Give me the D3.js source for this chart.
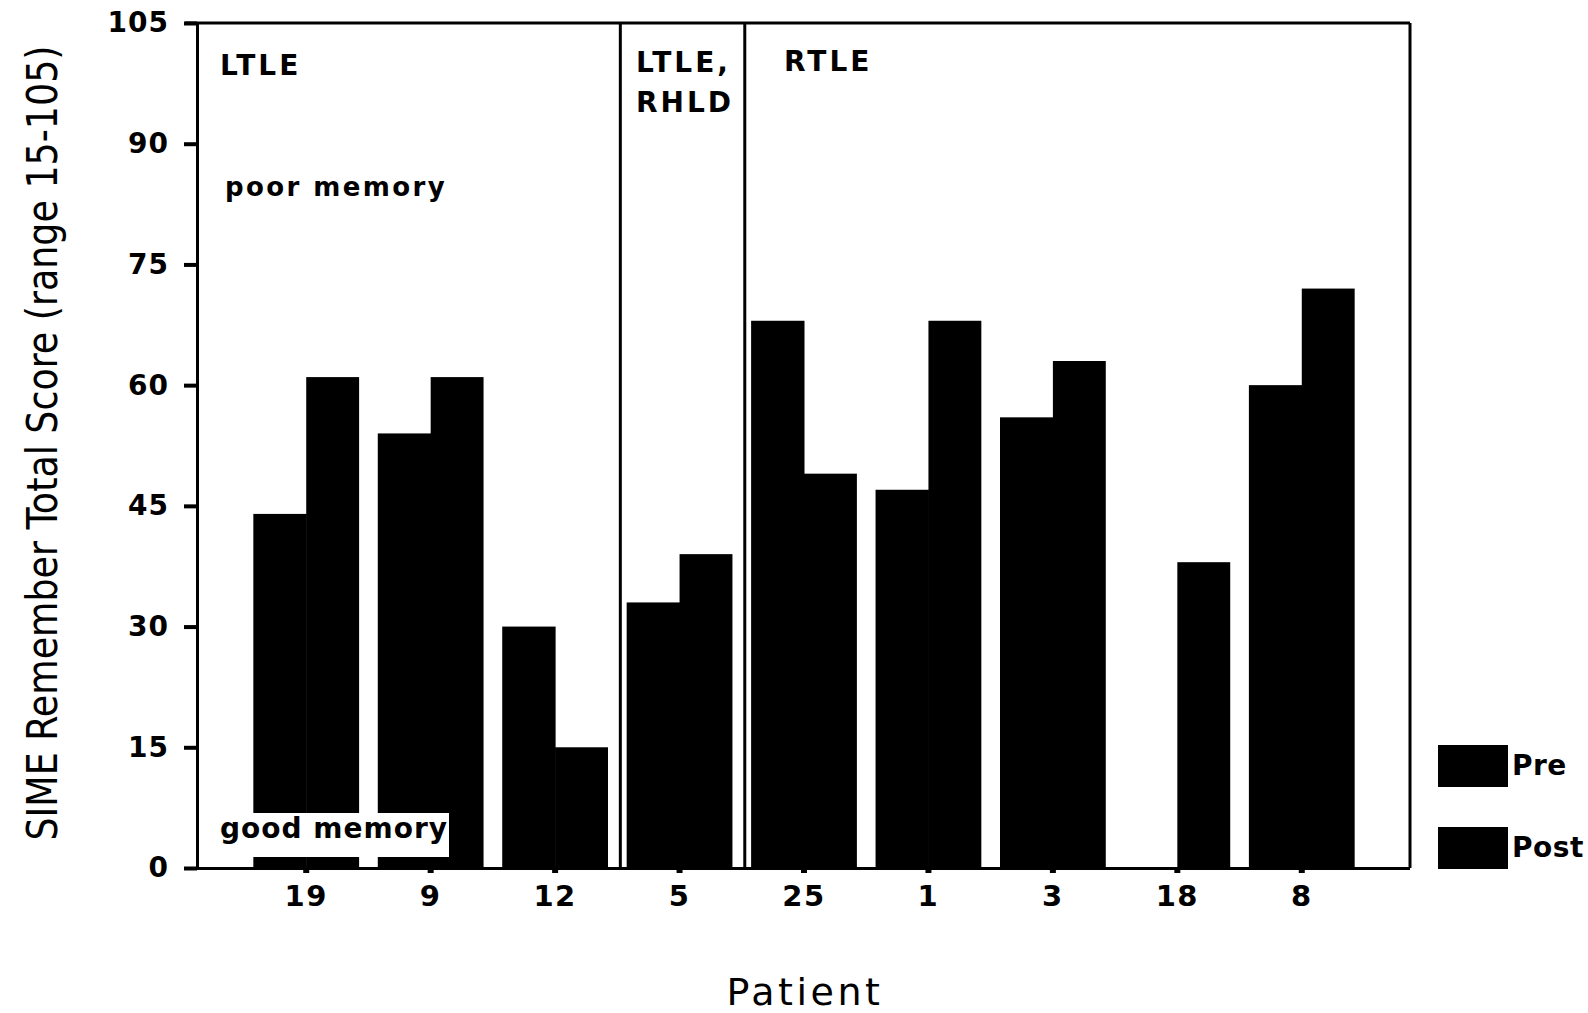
<!DOCTYPE html>
<html>
<head>
<meta charset="utf-8">
<script src="https://cdn.jsdelivr.net/npm/d3@7"></script>
<style>
  html, body { margin: 0; padding: 0; background: #fff; }
  svg { display: block; }
  text { fill: #000; }
</style>
</head>
<body>
<svg id="chart" width="1588" height="1013"></svg>
<script>
// Patients in plotted order and their SIME Remember totals
const patients = ["19", "9", "12", "5", "25", "1", "3", "18", "8"];
const preScores  = [44, 54, 30, 33, 68, 47, 56, 0, 60];
const postScores = [61, 61, 15, 39, 49, 68, 63, 38, 72];
const seriesNames = ["Pre", "Post"];
const yTicks = [0, 15, 30, 45, 60, 75, 90, 105];

// Diagnostic groups: label lines and the patients each covers
const groups = [
  { lines: ["LTLE"], first: "19", last: "12" },
  { lines: ["LTLE,", "RHLD"], first: "5", last: "5" },
  { lines: ["RTLE"], first: "25", last: "8" }
];

const svg = d3.select("#chart");
const plotL = 197, plotR = 1410, plotT = 23, plotB = 868;
const font = "'DejaVu Sans', sans-serif";

const y = d3.scaleLinear().domain([0, 105]).range([plotB, plotT]);
const x = d3.scaleBand().domain(patients).range([244, 1364])
  .paddingInner(0.15).paddingOuter(0.075);
const xs = d3.scaleBand().domain(seriesNames).range([0, x.bandwidth()]);

const rows = patients.map((p, i) => ({ patient: p, Pre: preScores[i], Post: postScores[i] }));

// Bars
const g = svg.append("g");
rows.forEach(r => {
  seriesNames.forEach(s => {
    if (r[s] <= 0) return;
    g.append("rect")
      .attr("x", x(r.patient) + xs(s))
      .attr("y", y(r[s]))
      .attr("width", xs.bandwidth() + (s === "Pre" ? 0.5 : 0))
      .attr("height", y(0) - y(r[s]))
      .attr("fill", "#000");
  });
});

// Frame: top and right borders
svg.append("line").attr("x1", plotL - 12).attr("x2", plotR).attr("y1", plotT).attr("y2", plotT)
  .attr("stroke", "#000").attr("stroke-width", 3);
svg.append("line").attr("x1", plotR).attr("x2", plotR).attr("y1", plotT).attr("y2", plotB)
  .attr("stroke", "#000").attr("stroke-width", 3);

// Group separators
const sepX = [
  (x("12") + x.bandwidth() + x("5")) / 2 + 3,
  (x("5") + x.bandwidth() + x("25")) / 2 + 3
];
sepX.forEach(sx => {
  svg.append("line").attr("x1", sx).attr("x2", sx).attr("y1", plotT).attr("y2", plotB)
    .attr("stroke", "#000").attr("stroke-width", 3);
});

// Group labels
const groupLabelPos = [[220, 75], [636, 72], [784, 71]];
groups.forEach((gr, i) => {
  const t = svg.append("text")
    .attr("x", groupLabelPos[i][0]).attr("y", groupLabelPos[i][1])
    .attr("font-family", font).attr("font-size", 28).attr("font-weight", "bold")
    .attr("letter-spacing", 3);
  gr.lines.forEach((ln, j) => {
    t.append("tspan").attr("x", groupLabelPos[i][0]).attr("dy", j === 0 ? 0 : 40).text(ln);
  });
});

// Memory direction annotations
svg.append("text").attr("x", 225).attr("y", 196)
  .attr("font-family", font).attr("font-size", 26).attr("font-weight", "bold")
  .attr("letter-spacing", 2.4)
  .text("poor memory");
svg.append("rect").attr("x", plotL + 1).attr("y", 813).attr("width", 251).attr("height", 44)
  .attr("fill", "#fff");
svg.append("text").attr("x", 220).attr("y", 838)
  .attr("font-family", font).attr("font-size", 28).attr("font-weight", "bold")
  .attr("letter-spacing", 1)
  .text("good memory");

// Y axis
const yAxis = svg.append("g").attr("transform", `translate(${plotL},0)`)
  .call(d3.axisLeft(y).tickValues(yTicks).tickSize(13).tickPadding(15).tickSizeOuter(0));
yAxis.select(".domain").attr("stroke-width", 3);
yAxis.selectAll(".tick line").attr("stroke-width", 4);
yAxis.selectAll(".tick text").attr("font-family", font).attr("font-size", 28)
  .attr("font-weight", "bold").attr("letter-spacing", 1);

// X axis
const xAxis = svg.append("g").attr("transform", `translate(0,${plotB})`)
  .call(d3.axisBottom(x).tickSize(5).tickPadding(12).tickSizeOuter(0));
xAxis.select(".domain").attr("d", `M${plotL - 12},0.5H${plotR}`).attr("stroke-width", 3);
xAxis.selectAll(".tick line").attr("stroke-width", 6);
xAxis.selectAll(".tick text").attr("font-family", font).attr("font-size", 29)
  .attr("font-weight", "bold").attr("letter-spacing", 1.5);

// Axis titles
svg.append("text")
  .attr("transform", `translate(57,443) rotate(-90)`)
  .attr("text-anchor", "middle")
  .attr("font-family", "'DejaVu Sans Condensed', 'DejaVu Sans', sans-serif")
  .attr("font-size", 42)
  .attr("textLength", 795).attr("lengthAdjust", "spacingAndGlyphs")
  .text("SIME Remember Total Score (range 15-105)");
svg.append("text").attr("x", 805).attr("y", 1005).attr("text-anchor", "middle")
  .attr("font-family", font).attr("font-size", 38).attr("letter-spacing", 3.5)
  .text("Patient");

// Legend
const legendY = [745, 827];
seriesNames.forEach((s, i) => {
  svg.append("rect").attr("x", 1438).attr("y", legendY[i]).attr("width", 70).attr("height", 42)
    .attr("fill", "#000");
  svg.append("text").attr("x", 1512).attr("y", legendY[i] + 30)
    .attr("font-family", font).attr("font-size", 28).attr("font-weight", "bold")
    .attr("letter-spacing", 0.5)
    .text(s);
});
</script>
</body>
</html>
